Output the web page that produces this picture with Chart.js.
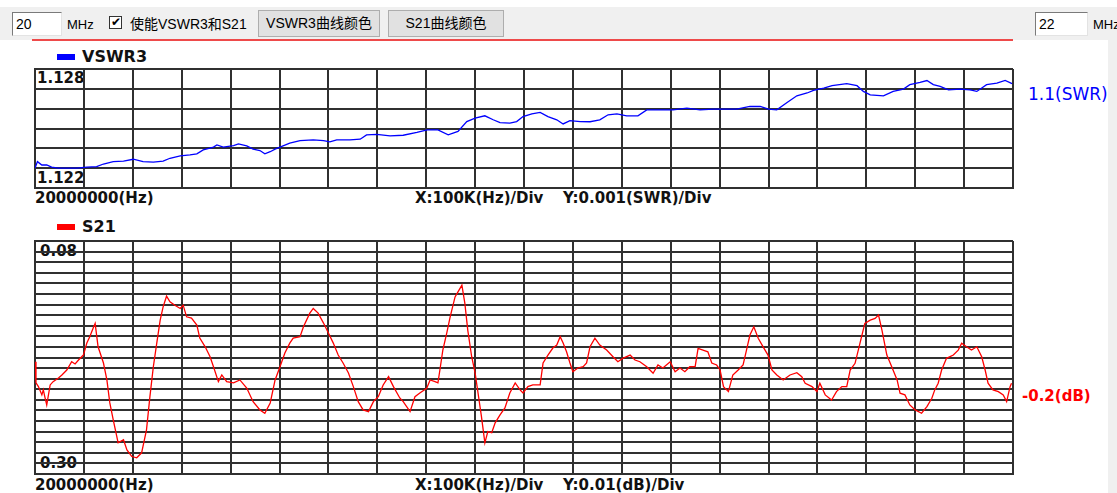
<!DOCTYPE html>
<html>
<head>
<meta charset="utf-8">
<script src="https://cdn.jsdelivr.net/npm/chart.js@4.4.1/dist/chart.umd.min.js"></script>
<style>
  html, body { margin: 0; padding: 0; }
  body { width: 1117px; height: 493px; position: relative; background: #fff; overflow: hidden;
         font-family: "Liberation Sans", "Noto Sans CJK SC", sans-serif; }
  .abs { position: absolute; white-space: nowrap; }
  #bar { left: 0; top: 7px; width: 1117px; height: 33px; background: #f0f0f0; }
  #rightStrip { left: 1108px; top: 40px; width: 9px; height: 453px; background: #f0f0f0; }
  .inp { background: #fff; border: 1px solid #7a7a7a; border-right-color: #e3e3e3; border-bottom-color: #e3e3e3;
         box-sizing: border-box; height: 24px; font-size: 14px; line-height: 22px; padding-left: 3px; }
  .btn { background: #e1e1e1; border: 1px solid #adadad; box-sizing: border-box; height: 27px;
         font-size: 14px; line-height: 25px; text-align: center; }
  .tb { font-size: 13px; line-height: 16px; }
  .lbl { font-family: "DejaVu Sans", sans-serif; font-weight: bold; font-size: 15px; line-height: 18px; color: #111; }
  canvas { position: absolute; }
</style>
</head>
<body>
<div id="bar" class="abs"></div>
<div id="rightStrip" class="abs"></div>
<div class="abs inp" style="left:12px;top:12px;width:50px;">20</div>
<div class="abs tb" style="left:67px;top:17px;">MHz</div>
<div class="abs" style="left:109px;top:16px;width:13px;height:13px;box-sizing:border-box;border:1px solid #333;background:#fff;font-size:12px;line-height:11px;text-align:center;">&#10004;</div>
<div class="abs" style="left:130px;top:15px;font-size:14px;line-height:18px;">使能VSWR3和S21</div>
<div class="abs btn" style="left:258px;top:10px;width:122px;">VSWR3曲线颜色</div>
<div class="abs btn" style="left:388px;top:10px;width:116px;">S21曲线颜色</div>
<div class="abs inp" style="left:1035px;top:12px;width:53px;">22</div>
<div class="abs tb" style="left:1093px;top:17px;">MHz</div>
<div class="abs" style="left:32px;top:39px;width:981px;height:2px;background:#ee4a4a;"></div>

<!-- VSWR3 panel texts -->
<div class="abs" style="left:57px;top:54px;width:18px;height:6px;background:#0000ff;"></div>
<div class="abs lbl" style="left:82px;top:48px;font-size:16px;">VSWR3</div>
<div class="abs lbl" style="left:37px;top:69px;">1.128</div>
<div class="abs lbl" style="left:37px;top:169px;">1.122</div>
<div class="abs lbl" style="left:35px;top:189px;">20000000(Hz)</div>
<div class="abs lbl" style="left:415px;top:189px;">X:100K(Hz)/Div</div>
<div class="abs lbl" style="left:563px;top:189px;">Y:0.001(SWR)/Div</div>
<div class="abs" style="left:1028px;top:84px;font-family:'DejaVu Sans',sans-serif;font-size:17px;line-height:20px;color:#0000ff;">1.1(SWR)</div>

<!-- S21 panel texts -->
<div class="abs" style="left:57px;top:224px;width:18px;height:6px;background:#ff0000;"></div>
<div class="abs lbl" style="left:82px;top:218px;font-size:16px;">S21</div>
<div class="abs lbl" style="left:40px;top:242px;">0.08</div>
<div class="abs lbl" style="left:40px;top:454px;">0.30</div>
<div class="abs lbl" style="left:35px;top:476px;">20000000(Hz)</div>
<div class="abs lbl" style="left:415px;top:476px;">X:100K(Hz)/Div</div>
<div class="abs lbl" style="left:563px;top:476px;">Y:0.01(dB)/Div</div>
<div class="abs lbl" style="left:1022px;top:387px;color:#ff0000;">-0.2(dB)</div>

<canvas id="vswr" width="998" height="139" style="left:25px;top:59px;"></canvas>
<canvas id="s21" width="998" height="253" style="left:25px;top:231px;"></canvas>

<script>
// frequency in MHz, 20 .. 22
const vswrFreq = [20.000, 20.005, 20.014, 20.024, 20.034, 20.048, 20.065, 20.085, 20.106, 20.126,
  20.140, 20.160, 20.181, 20.201, 20.221, 20.242, 20.262, 20.276, 20.297, 20.317,
  20.331, 20.344, 20.365, 20.372, 20.385, 20.406, 20.416, 20.433, 20.446, 20.460,
  20.470, 20.481, 20.491, 20.501, 20.521, 20.542, 20.569, 20.590, 20.603, 20.617,
  20.644, 20.665, 20.678, 20.699, 20.726, 20.753, 20.781, 20.802, 20.824, 20.845,
  20.865, 20.883, 20.900, 20.920, 20.937, 20.951, 20.971, 20.985, 20.998, 21.016,
  21.033, 21.049, 21.067, 21.080, 21.094, 21.115, 21.135, 21.155, 21.172, 21.190,
  21.210, 21.233, 21.251, 21.278, 21.305, 21.333, 21.360, 21.387, 21.408, 21.435,
  21.462, 21.483, 21.500, 21.517, 21.538, 21.558, 21.579, 21.592, 21.613, 21.630,
  21.660, 21.681, 21.694, 21.708, 21.735, 21.755, 21.776, 21.789, 21.810, 21.824,
  21.837, 21.851, 21.868, 21.892, 21.912, 21.926, 21.946, 21.967, 21.984, 21.998];
const vswrValues = [1.12300, 1.12333, 1.12316, 1.12316, 1.12305, 1.12300, 1.12300, 1.12300, 1.12305, 1.12308,
  1.12321, 1.12333, 1.12336, 1.12345, 1.12333, 1.12330, 1.12336, 1.12350, 1.12362, 1.12367,
  1.12372, 1.12392, 1.12406, 1.12417, 1.12406, 1.12414, 1.12422, 1.12412, 1.12396, 1.12389,
  1.12372, 1.12383, 1.12396, 1.12406, 1.12426, 1.12439, 1.12443, 1.12439, 1.12433, 1.12443,
  1.12443, 1.12446, 1.12468, 1.12470, 1.12463, 1.12466, 1.12480, 1.12493, 1.12493, 1.12468,
  1.12485, 1.12535, 1.12552, 1.12564, 1.12544, 1.12530, 1.12527, 1.12535, 1.12560, 1.12574,
  1.12581, 1.12560, 1.12544, 1.12523, 1.12540, 1.12535, 1.12534, 1.12544, 1.12569, 1.12574,
  1.12564, 1.12564, 1.12594, 1.12594, 1.12594, 1.12603, 1.12594, 1.12598, 1.12598, 1.12598,
  1.12611, 1.12611, 1.12598, 1.12594, 1.12631, 1.12665, 1.12679, 1.12692, 1.12704, 1.12716,
  1.12726, 1.12716, 1.12687, 1.12670, 1.12665, 1.12687, 1.12699, 1.12721, 1.12732, 1.12742,
  1.12721, 1.12712, 1.12695, 1.12699, 1.12695, 1.12687, 1.12721, 1.12729, 1.12742, 1.12726];

const s21Freq = [20.000, 20.002, 20.007, 20.014, 20.017, 20.020, 20.024, 20.031, 20.037, 20.048,
  20.055, 20.065, 20.075, 20.082, 20.089, 20.099, 20.106, 20.112, 20.119, 20.123,
  20.129, 20.140, 20.147, 20.153, 20.160, 20.170, 20.181, 20.188, 20.198, 20.208,
  20.218, 20.228, 20.235, 20.242, 20.249, 20.256, 20.262, 20.269, 20.276, 20.286,
  20.297, 20.303, 20.310, 20.320, 20.331, 20.337, 20.348, 20.358, 20.365, 20.375,
  20.382, 20.392, 20.406, 20.419, 20.433, 20.446, 20.460, 20.470, 20.481, 20.491,
  20.501, 20.511, 20.521, 20.528, 20.542, 20.549, 20.562, 20.569, 20.579, 20.590,
  20.600, 20.610, 20.620, 20.630, 20.641, 20.651, 20.661, 20.671, 20.682, 20.692,
  20.702, 20.712, 20.723, 20.733, 20.746, 20.753, 20.767, 20.777, 20.787, 20.801,
  20.808, 20.818, 20.824, 20.828, 20.834, 20.842, 20.849, 20.859, 20.865, 20.873,
  20.879, 20.885, 20.893, 20.900, 20.906, 20.913, 20.920, 20.926, 20.934, 20.941,
  20.951, 20.961, 20.971, 20.982, 20.992, 20.998, 21.008, 21.018, 21.033, 21.039,
  21.049, 21.059, 21.067, 21.074, 21.080, 21.087, 21.094, 21.100, 21.110, 21.121,
  21.128, 21.135, 21.145, 21.155, 21.169, 21.182, 21.192, 21.202, 21.217, 21.227,
  21.237, 21.251, 21.264, 21.274, 21.284, 21.299, 21.309, 21.319, 21.329, 21.339,
  21.350, 21.356, 21.366, 21.376, 21.384, 21.394, 21.401, 21.408, 21.418, 21.427,
  21.438, 21.448, 21.455, 21.462, 21.470, 21.479, 21.489, 21.499, 21.507, 21.517,
  21.530, 21.544, 21.558, 21.568, 21.575, 21.589, 21.599, 21.605, 21.616, 21.629,
  21.639, 21.650, 21.660, 21.667, 21.677, 21.687, 21.697, 21.708, 21.718, 21.725,
  21.732, 21.742, 21.752, 21.763, 21.769, 21.779, 21.789, 21.800, 21.813, 21.824,
  21.834, 21.840, 21.847, 21.854, 21.864, 21.878, 21.888, 21.895, 21.905, 21.915,
  21.926, 21.936, 21.943, 21.949, 21.959, 21.970, 21.980, 21.987, 21.994, 21.997];
// S21 loss (dB magnitude), axis runs 0.08 at top to 0.30 at bottom
const s21Values = [0.1940, 0.2140, 0.2175, 0.2253, 0.2206, 0.2270, 0.2348, 0.2159, 0.2128, 0.2093,
  0.2065, 0.2018, 0.1940, 0.1961, 0.1924, 0.1877, 0.1764, 0.1704, 0.1622, 0.1578,
  0.1799, 0.1952, 0.2112, 0.2329, 0.2489, 0.2706, 0.2677, 0.2772, 0.2835, 0.2847,
  0.2800, 0.2583, 0.2270, 0.1987, 0.1764, 0.1547, 0.1422, 0.1321, 0.1375, 0.1406,
  0.1437, 0.1406, 0.1516, 0.1528, 0.1594, 0.1717, 0.1799, 0.1893, 0.1987, 0.2128,
  0.2065, 0.2128, 0.2140, 0.2112, 0.2188, 0.2317, 0.2395, 0.2426, 0.2329, 0.2112,
  0.1987, 0.1858, 0.1764, 0.1717, 0.1704, 0.1610, 0.1481, 0.1437, 0.1481, 0.1575,
  0.1669, 0.1764, 0.1877, 0.1952, 0.2046, 0.2175, 0.2317, 0.2395, 0.2411, 0.2317,
  0.2270, 0.2159, 0.2081, 0.2175, 0.2282, 0.2317, 0.2411, 0.2270, 0.2235, 0.2190,
  0.2112, 0.2128, 0.2140, 0.2018, 0.1830, 0.1669, 0.1516, 0.1328, 0.1280, 0.1217,
  0.1387, 0.1641, 0.1893, 0.2046, 0.2235, 0.2458, 0.2706, 0.2599, 0.2611, 0.2517,
  0.2442, 0.2376, 0.2235, 0.2140, 0.2206, 0.2235, 0.2175, 0.2159, 0.2159, 0.1952,
  0.1877, 0.1811, 0.1783, 0.1704, 0.1764, 0.1846, 0.1952, 0.2034, 0.1999, 0.1987,
  0.1952, 0.1799, 0.1717, 0.1783, 0.1830, 0.1893, 0.1940, 0.1908, 0.1877, 0.1924,
  0.1940, 0.1987, 0.2049, 0.1971, 0.1999, 0.1940, 0.2034, 0.1999, 0.2034, 0.1987,
  0.1987, 0.1814, 0.1830, 0.1846, 0.1952, 0.1971, 0.2018, 0.2175, 0.2222, 0.2065,
  0.2018, 0.1971, 0.1830, 0.1688, 0.1610, 0.1719, 0.1799, 0.1877, 0.2018, 0.2065,
  0.2112, 0.2065, 0.2043, 0.2081, 0.2143, 0.2175, 0.2222, 0.2143, 0.2253, 0.2301,
  0.2222, 0.2175, 0.2175, 0.2018, 0.1955, 0.1766, 0.1578, 0.1547, 0.1531, 0.1500,
  0.1641, 0.1877, 0.1987, 0.2112, 0.2237, 0.2253, 0.2348, 0.2395, 0.2426, 0.2364,
  0.2285, 0.2206, 0.2143, 0.2018, 0.1908, 0.1877, 0.1830, 0.1766, 0.1799, 0.1830,
  0.1799, 0.1893, 0.2018, 0.2143, 0.2206, 0.2222, 0.2253, 0.2317, 0.2175, 0.2143];

const gridColor = '#303030';

function panel(id, freq, values, color, yMin, yMax, yStep, reverse) {
  const ctx = document.getElementById(id);
  return new Chart(ctx, {
    type: 'line',
    data: {
      datasets: [{
        data: freq.map((f, i) => ({ x: f, y: values[i] })),
        borderColor: color,
        borderWidth: 1.3,
        pointRadius: 0,
        tension: 0,
        fill: false
      }]
    },
    options: {
      responsive: false,
      animation: false,
      events: [],
      layout: { padding: 10 },
      plugins: { legend: { display: false }, tooltip: { enabled: false } },
      scales: {
        x: {
          type: 'linear', min: 20, max: 22,
          ticks: { display: false, stepSize: 0.1 },
          grid: { color: gridColor, lineWidth: 2, drawTicks: false },
          border: { color: gridColor, width: 2 }
        },
        y: {
          type: 'linear', min: yMin, max: yMax, reverse: reverse,
          ticks: { display: false, stepSize: yStep },
          grid: { color: gridColor, lineWidth: 2, drawTicks: false },
          border: { color: gridColor, width: 2 }
        }
      }
    }
  });
}

panel('vswr', vswrFreq, vswrValues, '#0000ff', 1.122, 1.128, 0.001, false);
panel('s21', s21Freq, s21Values, '#ff0000', 0.08, 0.30, 0.01, true);
</script>
</body>
</html>
